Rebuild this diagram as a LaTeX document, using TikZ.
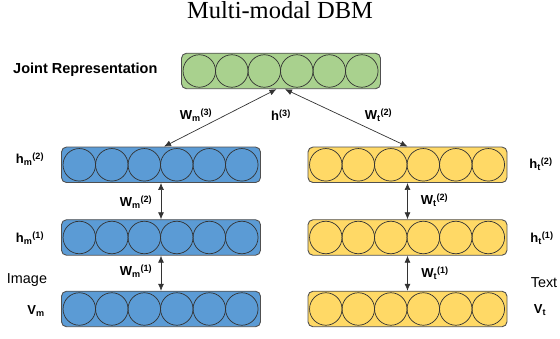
\documentclass[tikz,border=0pt]{standalone}
\usepackage{fontspec}
\setmainfont{Liberation Sans}
\newfontfamily\titlefont{Liberation Serif}
\usetikzlibrary{arrows.meta}

\definecolor{jointgreen}{HTML}{A9D18E}
\definecolor{imageblue}{HTML}{5B9BD5}
\definecolor{textyellow}{HTML}{FFD966}
\definecolor{layerline}{HTML}{505050}

\newcommand{\wlab}[2]{W\textsubscript{#1}\textsuperscript{(#2)}}
\newcommand{\hlab}[2]{h\textsubscript{#1}\textsuperscript{(#2)}}

\begin{document}
\begin{tikzpicture}[x=1pt, y=-1pt,
    layer/.style={draw=layerline, line width=0.9pt, rounded corners=5pt,
        minimum width=199pt, minimum height=35.5pt, inner sep=0pt},
    unit/.style={circle, draw=black!80, line width=0.7pt,
        minimum size=32.5pt, inner sep=0pt},
    link/.style={{Latex[length=7pt,width=6pt]}-{Latex[length=7pt,width=6pt]},
        black!80, line width=0.7pt},
    lab/.style={font=\fontsize{13}{15}\selectfont\bfseries, inner sep=0pt},
    side/.style={font=\fontsize{14.4}{16}\selectfont, inner sep=0pt}
]
    \useasboundingbox (0,0) rectangle (560,339);

    \node[font=\titlefont\fontsize{24.5}{28}\selectfont, anchor=base] (title) at (280,19) {Multi-modal DBM};

    % layers
    \node[layer, fill=jointgreen] (joint) at (281,71) {};
    \node[layer, fill=imageblue] (hm2) at (161,164.8) {};
    \node[layer, fill=imageblue] (hm1) at (161,237.5) {};
    \node[layer, fill=imageblue] (vm) at (161,309) {};
    \node[layer, fill=textyellow] (ht2) at (407.5,164.8) {};
    \node[layer, fill=textyellow] (ht1) at (407.5,237.5) {};
    \node[layer, fill=textyellow] (vt) at (407.5,309) {};

    % units
    \foreach \l in {joint,hm2,hm1,vm,ht2,ht1,vt}
        \foreach \i in {0,...,5}
            \node[unit] (\l-\i) at ([xshift={18.25pt+32.5pt*\i}]\l.west) {};

    % labels
    \node[lab, anchor=west, font=\fontsize{14.5}{16}\selectfont\bfseries] (jointlab) at (13,70) {Joint Representation};
    \node[lab] (lwm3) at (196,115) {\wlab{m}{3}};
    \node[lab] (lh3) at (281,115) {h\textsuperscript{(3)}};
    \node[lab] (lwt2top) at (378.5,115) {\wlab{t}{2}};
    \node[lab] (lhm2) at (30,159) {\hlab{m}{2}};
    \node[lab] (lwm2) at (136,202) {\wlab{m}{2}};
    \node[lab] (lhm1) at (30,238) {\hlab{m}{1}};
    \node[lab] (lwm1) at (136,271) {\wlab{m}{1}};
    \node[side] (image) at (27,280) {Image};
    \node[lab] (lvm) at (36,311) {V\textsubscript{m}};
    \node[lab] (lht2) at (541,164) {\hlab{t}{2}};
    \node[lab] (lwt2) at (434.5,200) {\wlab{t}{2}};
    \node[lab] (lht1) at (542,238) {\hlab{t}{1}};
    \node[lab] (lwt1) at (435,273) {\wlab{t}{1}};
    \node[side] (text) at (544,283) {Text};
    \node[lab] (lvt) at (540,310) {V\textsubscript{t}};

    % connections
    \draw[link] ([xshift=3pt]hm2.north) -- ([xshift=-4.5pt]joint.south);
    \draw[link] (ht2.north) -- ([xshift=4pt]joint.south);
    \draw[link] (hm2) -- (hm1);
    \draw[link] (hm1) -- (vm);
    \draw[link] (ht2) -- (ht1);
    \draw[link] (ht1) -- (vt);
\end{tikzpicture}
\end{document}
